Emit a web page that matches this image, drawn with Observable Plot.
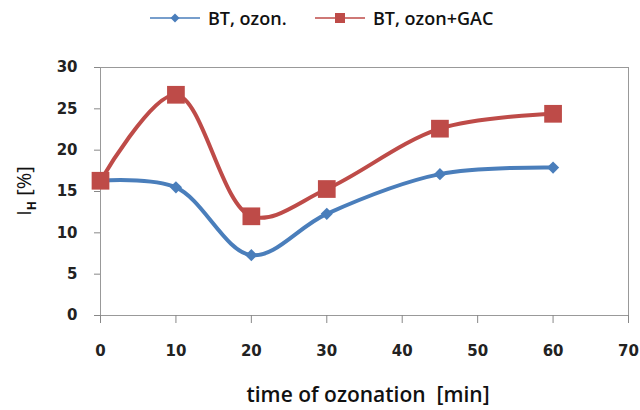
<!DOCTYPE html>
<html><head><meta charset="utf-8">
<script src="https://cdn.jsdelivr.net/npm/d3@7"></script>
<script src="https://cdn.jsdelivr.net/npm/@observablehq/plot@0.6"></script>
<style>
body{margin:0;background:#fff;font-family:"Open Sans",sans-serif;}
#legend{position:relative;height:36px;font-weight:600;font-size:18px;color:#111;}
.item{position:absolute;top:5px;height:26px;display:flex;align-items:center;gap:8px;white-space:nowrap;}
</style></head><body>
<div id="legend"></div>
<div id="chart"></div>
<script>
const times = [0, 10, 20, 30, 45, 60];
const ozon = [16.3, 15.5, 7.3, 12.3, 17.1, 17.9];
const ozonGAC = [16.3, 26.7, 12.0, 15.3, 22.6, 24.4];
const seriesNames = ["BT, ozon.", "BT, ozon+GAC"];
const seriesColors = ["#4a7ebb", "#be4b48"];
const xTicks = [0, 10, 20, 30, 40, 50, 60, 70];
const yTicks = [0, 5, 10, 15, 20, 25, 30];
const xTitle = "time of ozonation  [min]";

const blueRows = times.map((t, i) => ({t, v: ozon[i]}));
const redRows = times.map((t, i) => ({t, v: ozonGAC[i]}));

// legend
const legend = document.getElementById("legend");
const lefts = [150, 315];
seriesNames.forEach((name, i) => {
  const d = document.createElement("div");
  d.className = "item";
  d.style.left = lefts[i] + "px";
  const marker = i === 0
    ? `<path d="M25 2.5 L29.5 7 L25 11.5 L20.5 7 Z" fill="${seriesColors[0]}"/>`
    : `<rect x="20" y="2" width="10" height="10" fill="${seriesColors[1]}"/>`;
  d.innerHTML = `<svg width="50" height="14"><line x1="0" x2="50" y1="7" y2="7" stroke="${seriesColors[i]}" stroke-width="1.5"/>${marker}</svg><span>${name}</span>`;
  legend.appendChild(d);
});

const plot = Plot.plot({
  width: 640, height: 374,
  marginTop: 31, marginBottom: 95, marginLeft: 100, marginRight: 12,
  style: {fontFamily: "DejaVu Sans", fontSize: "15px", fontWeight: "bold", color: "#222", background: "#fff"},
  x: {domain: [0, 70]},
  y: {domain: [0, 30]},
  marks: [
    Plot.frame({stroke: "#999"}),
    Plot.axisX({ticks: xTicks, tickSize: 8, tickPadding: 22, label: null, stroke: "#888"}),
    Plot.axisY({ticks: yTicks, tickSize: 6, tickPadding: 17, label: null, stroke: "#888"}),
    Plot.line(blueRows, {x: "t", y: "v", stroke: seriesColors[0], strokeWidth: 4, curve: "catmull-rom"}),
    Plot.line(redRows, {x: "t", y: "v", stroke: seriesColors[1], strokeWidth: 4, curve: "catmull-rom"}),
    Plot.dot(blueRows, {x: "t", y: "v", symbol: "diamond2", r: 5.5, fill: seriesColors[0], stroke: "none"}),
    Plot.dot(redRows, {x: "t", y: "v", symbol: "square", r: 10, fill: seriesColors[1], stroke: "none"})
  ]
});
document.getElementById("chart").appendChild(plot);

const svg = d3.select(plot);
svg.append("text")
  .attr("x", 368).attr("y", 366)
  .attr("text-anchor", "middle")
  .attr("font-family", "Open Sans").attr("font-size", 21).attr("font-weight", 600)
  .attr("fill", "#111")
  .text(xTitle);
const yl = svg.append("text")
  .attr("transform", "translate(31,155) rotate(-90)")
  .attr("text-anchor", "middle")
  .attr("font-family", "Open Sans").attr("font-size", 20).attr("font-weight", 400)
  .attr("fill", "#111");
yl.append("tspan").text("I");
yl.append("tspan").attr("dy", 5).attr("font-size", 12).attr("font-weight", 700).text("H");
yl.append("tspan").attr("dy", -5).text(" [%]");
</script>
</body></html>
